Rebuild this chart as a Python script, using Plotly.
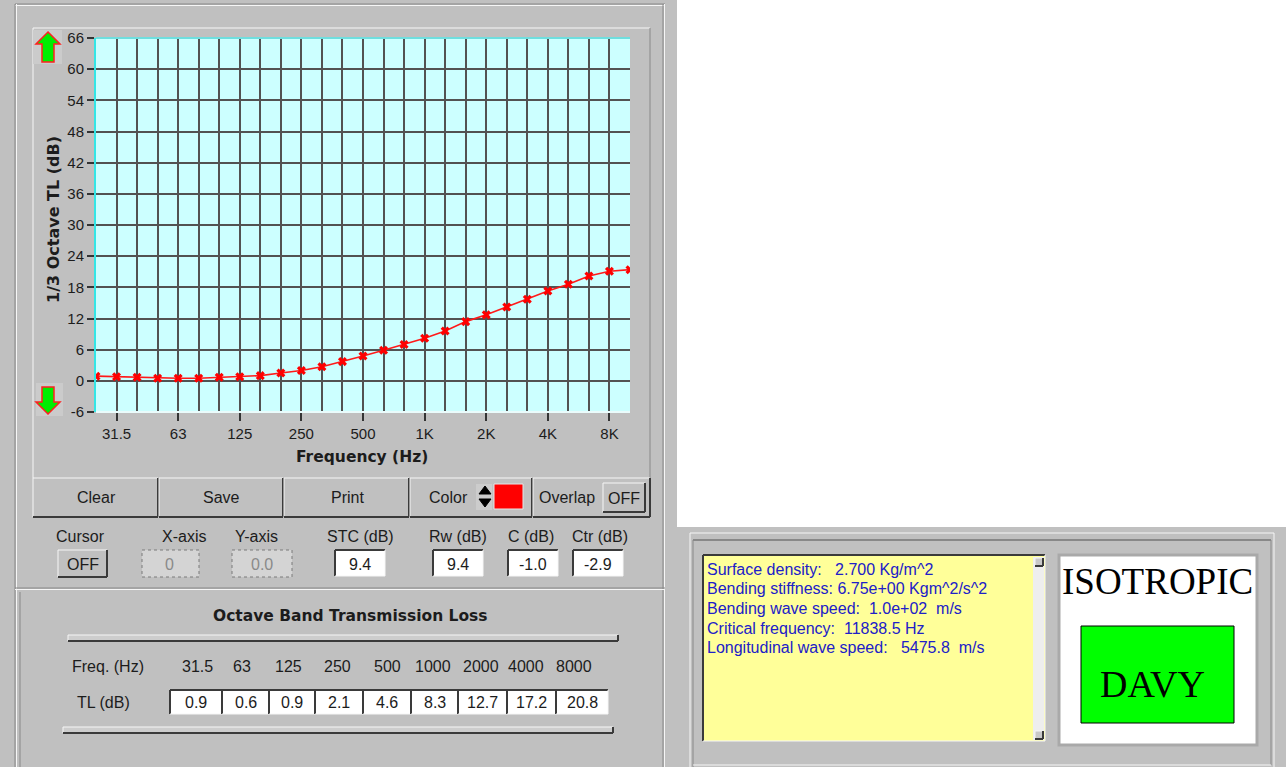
import plotly.graph_objects as go

W, H = 1286, 767

# 1/3-octave band centre frequencies and transmission loss (dB)
bands = ["25", "31.5", "40", "50", "63", "80", "100", "125", "160", "200",
         "250", "315", "400", "500", "630", "800", "1K", "1.25K", "1.6K", "2K",
         "2.5K", "3.15K", "4K", "5K", "6.3K", "8K", "10K"]
tl_third = [0.9, 0.8, 0.7, 0.5, 0.5, 0.5, 0.7, 0.8, 1.0, 1.5,
            2.0, 2.7, 3.7, 4.8, 5.9, 7.0, 8.2, 9.6, 11.4, 12.7,
            14.2, 15.7, 17.3, 18.6, 20.2, 21.1, 21.4]
labelled_bands = ["31.5", "63", "125", "250", "500", "1K", "2K", "4K", "8K"]
y_ticks = list(range(-6, 67, 6))

# octave-band summary table
octave_freqs = ["31.5", "63", "125", "250", "500", "1000", "2000", "4000", "8000"]
octave_tl = [0.9, 0.6, 0.9, 2.1, 4.6, 8.3, 12.7, 17.2, 20.8]

# single-number ratings
rating_names = ["STC (dB)", "Rw (dB)", "C (dB)", "Ctr (dB)"]
rating_values = [9.4, 9.4, -1.0, -2.9]

# panel properties
info_lines = [
    "Surface density:   2.700 Kg/m^2",
    "Bending stiffness: 6.75e+00 Kgm^2/s^2",
    "Bending wave speed:  1.0e+02  m/s",
    "Critical frequency:  11838.5 Hz",
    "Longitudinal wave speed:   5475.8  m/s",
]
panel_type = "ISOTROPIC"
model_name = "DAVY"

SANS = "Liberation Sans, Arial, sans-serif"
BOLD = "DejaVu Sans, Verdana, sans-serif"
SERIF = "Liberation Serif, Times New Roman, serif"
TXT = "#1c1c1c"
LIGHT = "#f6f6f6"
SHADE = "#888888"
DARK = "#3a3a3a"

shapes, annos = [], []


def X(p):
    return p / W


def Y(p):
    return 1 - p / H


def rect(x0, y0, x1, y1, fill="rgba(0,0,0,0)", line=None, lw=1, dash=None, layer="below"):
    ln = dict(width=lw if line else 0, color=line or "rgba(0,0,0,0)")
    if dash:
        ln["dash"] = dash
    shapes.append(dict(type="rect", xref="paper", yref="paper",
                       x0=X(x0), x1=X(x1), y0=Y(y1), y1=Y(y0),
                       fillcolor=fill, line=ln, layer=layer))


def seg(x0, y0, x1, y1, color, lw=1, layer="below"):
    shapes.append(dict(type="line", xref="paper", yref="paper",
                       x0=X(x0), x1=X(x1), y0=Y(y0), y1=Y(y1),
                       line=dict(color=color, width=lw), layer=layer))


def poly(pts, fill, line, lw=1):
    d = "M " + " L ".join(f"{X(a):.5f},{Y(b):.5f}" for a, b in pts) + " Z"
    shapes.append(dict(type="path", xref="paper", yref="paper", path=d,
                       fillcolor=fill, line=dict(color=line, width=lw), layer="below"))


def raised(x0, y0, x1, y1, fill=None):
    if fill:
        rect(x0, y0, x1, y1, fill=fill)
    seg(x0, y0, x1, y0, LIGHT)
    seg(x0, y0, x0, y1, LIGHT)
    seg(x0, y1, x1, y1, DARK, 2)
    seg(x1, y0, x1, y1, DARK, 2)


def sunken(x0, y0, x1, y1, fill="white"):
    rect(x0, y0, x1, y1, fill=fill)
    seg(x0, y0, x1, y0, DARK, 2)
    seg(x0, y0, x0, y1, DARK, 2)
    seg(x0, y1, x1, y1, LIGHT)
    seg(x1, y0, x1, y1, LIGHT)


def groove_h(x0, x1, y):
    seg(x0, y, x1, y, SHADE)
    seg(x0, y + 1.5, x1, y + 1.5, LIGHT)


def groove_v(x, y0, y1):
    seg(x, y0, x, y1, SHADE)
    seg(x + 1.5, y0, x + 1.5, y1, LIGHT)


def text(cx, cy, s, size=16, color=TXT, family=SANS, bold=False, anchor="center", angle=0):
    annos.append(dict(xref="paper", yref="paper", x=X(cx), y=Y(cy),
                      text=f"<b>{s}</b>" if bold else s, showarrow=False,
                      xanchor=anchor, yanchor="middle", textangle=angle,
                      font=dict(size=size, color=color, family=family)))


def nb(s):
    return s.replace(" ", "\u00a0")


# ---- window background pieces ----
rect(677, 0, W, 527, fill="white")

# left panel etched borders
groove_h(15, 665, 4)
groove_v(15, 4, H)
groove_v(663, 4, H)
groove_h(15, 665, 588)
seg(20, 592, 20, H, SHADE)

# graph frame
seg(33, 28, 650, 28, LIGHT)
seg(33, 28, 33, 478, LIGHT)
seg(650, 28, 650, 478, SHADE)

# scale arrows
rect(33, 30, 62, 64, fill="#cbcbcb")
poly([(48, 32), (60, 44), (54, 44), (54, 62), (42, 62), (42, 44), (36, 44)], "#00ee00", "#ff2020", 1.5)
rect(36, 383, 63, 416, fill="#cbcbcb")
poly([(42, 387), (54, 387), (54, 402), (60, 402), (48, 414), (36, 402), (42, 402)], "#00ee00", "#ff2020", 1.5)

# plot edges
seg(96, 38, 630, 38, "#6fdede", 2, layer="above")
seg(96, 412, 630, 412, "#eafcfc", 2, layer="above")

# axis titles
text(53, 220, "1/3 Octave TL (dB)", size=16, family=BOLD, bold=True, angle=-90)
text(362, 457, "Frequency (Hz)", size=15.5, family=BOLD, bold=True)

# button row
for (a, b), lab, cx in zip([(33, 158), (159, 283), (284, 409), (410, 532), (533, 650)],
                           ["Clear", "Save", "Print", "Color", "Overlap"],
                           [96, 221, 347, 448, 567]):
    raised(a, 478, b, 517)
    text(cx, 497, lab)
rect(476, 484, 492, 510, fill="#cccccc")
poly([(479, 494), (485, 486), (491, 494)], "black", "black")
poly([(479, 499), (485, 507), (491, 499)], "black", "black")
rect(494, 484, 523, 509, fill="#ff0000", line="#e6e6e6", lw=1)
raised(603, 483, 645, 512)
text(624, 498, "OFF")

# cursor / rating row
text(80, 536, "Cursor")
text(184, 536, "X-axis")
text(256, 536, "Y-axis")
raised(58, 550, 107, 577)
text(83, 564, "OFF")
rect(142, 550, 199, 577, fill="#d4d4d4", line="#7a7a7a", dash="dot")
text(170, 564, "0", color="#8a8a8a")
rect(232, 550, 292, 577, fill="#d4d4d4", line="#7a7a7a", dash="dot")
text(262, 564, "0.0", color="#8a8a8a")
for (a, b), name, val, lx in zip([(335, 385), (433, 483), (508, 558), (573, 623)],
                                 rating_names, rating_values, [360, 458, 531, 600]):
    text(lx, 536, name)
    sunken(a, 550, b, 576)
    text((a + b) / 2, 564, f"{val:.1f}")

# octave band table
text(350, 616, "Octave Band Transmission Loss", size=15.5, family=BOLD, bold=True)
raised(68, 635, 618, 641, fill="#cdcdcd")
raised(63, 727, 613, 733, fill="#cdcdcd")
text(108, 666, "Freq. (Hz)")
text(103, 702, "TL (dB)")
box_edges = [170, 222, 269, 315, 363, 411, 458, 507, 556, 608]
label_x = [197, 242, 288, 337, 387, 433, 481, 526, 574]
for i, (f, v) in enumerate(zip(octave_freqs, octave_tl)):
    text(label_x[i], 666, f)
    a, b = box_edges[i], box_edges[i + 1]
    sunken(a, 690, b, 714)
    text((a + b) / 2, 702, f"{v:.1f}")

# right-hand info panel
seg(690, 533, 1274, 533, LIGHT)
seg(690, 533, 690, H, LIGHT)
seg(693, 540, 1271, 540, SHADE, 2)
seg(693, 540, 693, H, SHADE)
seg(1271, 540, 1271, 765, SHADE)
seg(1274, 533, 1274, H, LIGHT)
seg(693, 765, 1271, 765, LIGHT)

sunken(703, 555, 1045, 741, fill="#ffff99")
rect(1033, 557, 1044, 740, fill="#eeeeee")
raised(1035, 558, 1043, 566, fill="#c8c8c8")
raised(1035, 731, 1043, 739, fill="#c8c8c8")
for k, line in enumerate(info_lines):
    text(705, 569 + k * 19.7, nb(line), color="#2020c8", anchor="left")

rect(1059, 555, 1257, 745, fill="white", line="#a9a9a9", lw=3)
rect(1081, 626, 1234, 723, fill="#00ff00", line="black", lw=1)
text(1157, 581, panel_type, size=37, family=SERIF, color="black")
text(1152, 684, model_name, size=38, family=SERIF, color="black")

# ---- the transmission loss curve ----
band_pos = list(range(len(bands)))
major_pos = [bands.index(b) for b in labelled_bands]
minor_pos = [i for i in band_pos[1:-1] if i not in major_pos]

fig = go.Figure()
fig.add_trace(go.Scatter(
    x=band_pos, y=tl_third, mode="lines+markers",
    line=dict(color="#ff1a1a", width=1.6),
    marker=dict(symbol="x", size=8, color="#ff0000"),
    hoverinfo="skip", showlegend=False,
))

GRID = "#525252"
fig.update_layout(
    width=W, height=H,
    margin=dict(l=0, r=0, t=0, b=0),
    paper_bgcolor="#c0c0c0",
    plot_bgcolor="#ccffff",
    showlegend=False,
    shapes=shapes,
    annotations=annos,
    xaxis=dict(
        domain=[X(96), X(630)], range=[0, len(bands) - 1],
        tickmode="array", tickvals=major_pos, ticktext=labelled_bands,
        ticks="outside", ticklen=8, tickwidth=1.5, tickcolor="#333333",
        showgrid=True, gridcolor=GRID, gridwidth=2,
        minor=dict(tickmode="array", tickvals=minor_pos, showgrid=True,
                   gridcolor=GRID, gridwidth=2, ticks=""),
        zeroline=False, showline=False, automargin=False, fixedrange=True,
        tickfont=dict(size=15, color=TXT, family=SANS),
    ),
    yaxis=dict(
        domain=[Y(412), Y(38)], range=[-6, 66],
        tickmode="array", tickvals=y_ticks, ticktext=[str(v) for v in y_ticks],
        ticks="outside", ticklen=7, tickwidth=1.5, tickcolor="#333333",
        showgrid=True, gridcolor=GRID, gridwidth=2,
        zeroline=False, showline=True, linecolor="#33e6e6", linewidth=2,
        automargin=False, fixedrange=True,
        tickfont=dict(size=15, color=TXT, family=SANS),
    ),
)

fig.write_html("out.html")
